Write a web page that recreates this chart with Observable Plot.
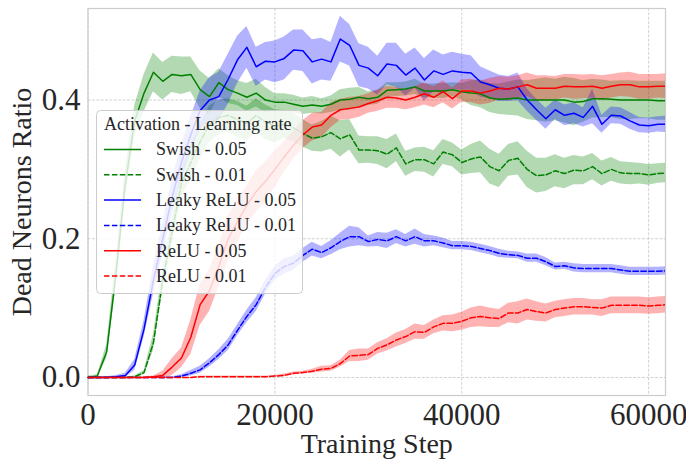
<!DOCTYPE html>
<html>
<head>
<meta charset="utf-8">
<script src="https://cdn.jsdelivr.net/npm/d3@7"></script>
<script src="https://cdn.jsdelivr.net/npm/@observablehq/plot@0.6"></script>
<style>
  html, body { margin: 0; padding: 0; background: #ffffff; }
  #chart { width: 686px; height: 459px; overflow: hidden; }
</style>
</head>
<body>
<div id="chart"></div>
<script>
// Training steps at which the dead-neuron ratio was logged
const steps = [0, 1000, 2000, 3000, 4000, 5000, 6000, 7000, 8000, 9000,
  10000, 11000, 12000, 13000, 14000, 15000, 16000, 17000, 18000, 19000,
  20000, 21000, 22000, 23000, 24000, 25000, 26000, 27000, 28000, 29000,
  30000, 31000, 32000, 33000, 34000, 35000, 36000, 37000, 38000, 39000,
  40000, 41000, 42000, 43000, 44000, 45000, 46000, 47000, 48000, 49000,
  50000, 51000, 52000, 53000, 54000, 55000, 56000, 57000, 58000, 59000,
  60000, 61000, 62000];

// Mean dead-neuron ratio per run
const swish005 = [0, 0.002, 0.037, 0.15, 0.28, 0.37, 0.41, 0.44, 0.427, 0.437,
  0.435, 0.437, 0.415, 0.405, 0.425, 0.415, 0.41, 0.404, 0.41, 0.4,
  0.397, 0.397, 0.394, 0.391, 0.393, 0.391, 0.394, 0.4, 0.401, 0.404,
  0.402, 0.404, 0.414, 0.415, 0.416, 0.419, 0.413, 0.413, 0.413, 0.415,
  0.412, 0.41, 0.409, 0.403, 0.401, 0.402, 0.403, 0.4, 0.4, 0.4,
  0.4, 0.4, 0.397, 0.398, 0.402, 0.402, 0.401, 0.4, 0.4, 0.4,
  0.4, 0.399, 0.399];
const swish001 = [0, 0, 0, 0, 0, 0.001, 0.007, 0.05, 0.14, 0.21,
  0.28, 0.31, 0.34, 0.365, 0.375, 0.378, 0.372, 0.366, 0.378, 0.368,
  0.362, 0.365, 0.36, 0.352, 0.345, 0.347, 0.353, 0.344, 0.35, 0.328,
  0.328, 0.327, 0.322, 0.331, 0.308, 0.314, 0.314, 0.308, 0.325, 0.321,
  0.31, 0.315, 0.318, 0.304, 0.298, 0.313, 0.316, 0.3, 0.291, 0.292,
  0.298, 0.294, 0.299, 0.298, 0.304, 0.294, 0.3, 0.295, 0.294, 0.294,
  0.292, 0.294, 0.295];
const leaky005 = [0, 0, 0, 0.001, 0.003, 0.018, 0.07, 0.14, 0.2, 0.26,
  0.31, 0.35, 0.385, 0.4, 0.405, 0.43, 0.458, 0.476, 0.448, 0.456,
  0.455, 0.46, 0.472, 0.471, 0.455, 0.459, 0.455, 0.488, 0.479, 0.45,
  0.446, 0.435, 0.452, 0.45, 0.436, 0.446, 0.429, 0.442, 0.437, 0.442,
  0.44, 0.439, 0.426, 0.422, 0.417, 0.416, 0.419, 0.4, 0.386, 0.373,
  0.386, 0.378, 0.381, 0.375, 0.391, 0.365, 0.378, 0.377, 0.37, 0.364,
  0.363, 0.365, 0.365];
const leaky001 = [0, 0, 0, 0, 0, 0, 0, 0, 0, 0,
  0.002, 0.006, 0.011, 0.021, 0.033, 0.047, 0.068, 0.088, 0.105, 0.13,
  0.15, 0.16, 0.165, 0.176, 0.185, 0.18, 0.187, 0.196, 0.203, 0.203,
  0.196, 0.199, 0.197, 0.203, 0.197, 0.203, 0.197, 0.197, 0.194, 0.19,
  0.19, 0.189, 0.186, 0.183, 0.179, 0.177, 0.176, 0.172, 0.172, 0.167,
  0.16, 0.161, 0.158, 0.157, 0.157, 0.157, 0.157, 0.155, 0.153, 0.153,
  0.153, 0.153, 0.154];
const relu005 = [0, 0, 0, 0, 0, 0, 0, 0.001, 0.003, 0.015,
  0.028, 0.058, 0.105, 0.125, 0.16, 0.2, 0.225, 0.248, 0.268, 0.283,
  0.3, 0.318, 0.335, 0.35, 0.361, 0.364, 0.378, 0.386, 0.388, 0.39,
  0.395, 0.399, 0.404, 0.403, 0.4, 0.404, 0.409, 0.404, 0.412, 0.402,
  0.413, 0.413, 0.41, 0.413, 0.417, 0.416, 0.419, 0.422, 0.417, 0.417,
  0.417, 0.42, 0.419, 0.419, 0.42, 0.417, 0.42, 0.422, 0.422, 0.419,
  0.419, 0.42, 0.42];
const relu001 = [0, 0, 0, 0, 0, 0, 0, 0, 0, 0,
  0, 0, 0.001, 0.001, 0.001, 0.001, 0.001, 0.001, 0.001, 0.001,
  0.002, 0.003, 0.006, 0.007, 0.009, 0.012, 0.013, 0.02, 0.031, 0.032,
  0.033, 0.042, 0.047, 0.054, 0.059, 0.066, 0.065, 0.073, 0.078, 0.078,
  0.081, 0.086, 0.088, 0.086, 0.085, 0.093, 0.093, 0.098, 0.095, 0.093,
  0.098, 0.1, 0.102, 0.102, 0.101, 0.1, 0.104, 0.104, 0.104, 0.104,
  0.103, 0.104, 0.105];

// Half-width of the confidence band around each mean
const swish005Band = [0.002, 0.002, 0.01, 0.02, 0.02, 0.022, 0.027, 0.028, 0.027, 0.026,
  0.027, 0.025, 0.027, 0.026, 0.02, 0.02, 0.018, 0.02, 0.02, 0.018,
  0.012, 0.012, 0.013, 0.012, 0.012, 0.011, 0.012, 0.015, 0.016, 0.014,
  0.01, 0.01, 0.011, 0.01, 0.01, 0.011, 0.01, 0.01, 0.011, 0.01,
  0.012, 0.018, 0.02, 0.021, 0.022, 0.024, 0.026, 0.028, 0.03, 0.032,
  0.03, 0.033, 0.034, 0.03, 0.028, 0.027, 0.026, 0.028, 0.028, 0.027,
  0.027, 0.028, 0.028];
const swish001Band = [0.001, 0.001, 0.001, 0.001, 0.001, 0.001, 0.003, 0.012, 0.015, 0.018,
  0.02, 0.024, 0.025, 0.026, 0.025, 0.024, 0.026, 0.025, 0.024, 0.025,
  0.024, 0.02, 0.021, 0.02, 0.019, 0.022, 0.024, 0.026, 0.022, 0.02,
  0.019, 0.02, 0.021, 0.02, 0.018, 0.017, 0.018, 0.019, 0.018, 0.017,
  0.018, 0.021, 0.023, 0.025, 0.024, 0.023, 0.024, 0.026, 0.025, 0.024,
  0.023, 0.022, 0.021, 0.02, 0.019, 0.018, 0.017, 0.016, 0.016, 0.015,
  0.015, 0.014, 0.014];
const leaky005Band = [0.001, 0.001, 0.001, 0.002, 0.003, 0.008, 0.012, 0.02, 0.022, 0.025,
  0.025, 0.026, 0.028, 0.032, 0.035, 0.036, 0.034, 0.03, 0.028, 0.027,
  0.03, 0.031, 0.029, 0.03, 0.032, 0.03, 0.028, 0.033, 0.03, 0.031,
  0.03, 0.028, 0.03, 0.032, 0.03, 0.029, 0.031, 0.03, 0.028, 0.027,
  0.026, 0.025, 0.022, 0.02, 0.019, 0.018, 0.02, 0.016, 0.015, 0.015,
  0.014, 0.015, 0.015, 0.014, 0.025, 0.013, 0.012, 0.012, 0.012, 0.011,
  0.011, 0.011, 0.012];
const leaky001Band = [0, 0, 0, 0, 0, 0, 0, 0.001, 0.001, 0.001,
  0.002, 0.004, 0.005, 0.006, 0.007, 0.008, 0.008, 0.009, 0.01, 0.01,
  0.01, 0.011, 0.01, 0.01, 0.01, 0.009, 0.01, 0.012, 0.015, 0.013,
  0.008, 0.01, 0.011, 0.01, 0.009, 0.011, 0.009, 0.007, 0.007, 0.006,
  0.006, 0.006, 0.006, 0.006, 0.006, 0.005, 0.005, 0.006, 0.006, 0.006,
  0.005, 0.005, 0.006, 0.006, 0.006, 0.006, 0.006, 0.006, 0.006, 0.006,
  0.006, 0.006, 0.006];
const relu005Band = [0, 0, 0, 0, 0, 0, 0.001, 0.001, 0.006, 0.012,
  0.014, 0.025, 0.03, 0.03, 0.03, 0.032, 0.03, 0.028, 0.03, 0.028,
  0.026, 0.022, 0.02, 0.02, 0.02, 0.018, 0.018, 0.015, 0.016, 0.015,
  0.014, 0.015, 0.016, 0.015, 0.014, 0.015, 0.016, 0.015, 0.016, 0.015,
  0.016, 0.017, 0.017, 0.018, 0.017, 0.017, 0.016, 0.017, 0.018, 0.018,
  0.017, 0.017, 0.018, 0.017, 0.017, 0.018, 0.017, 0.017, 0.018, 0.018,
  0.018, 0.017, 0.018];
const relu001Band = [0, 0, 0, 0, 0, 0, 0, 0, 0, 0,
  0, 0, 0.001, 0.001, 0.001, 0.001, 0.001, 0.001, 0.001, 0.001,
  0.001, 0.002, 0.002, 0.002, 0.003, 0.004, 0.004, 0.005, 0.008, 0.009,
  0.008, 0.008, 0.009, 0.01, 0.01, 0.011, 0.01, 0.01, 0.011, 0.012,
  0.013, 0.014, 0.015, 0.014, 0.013, 0.014, 0.016, 0.015, 0.014, 0.013,
  0.012, 0.012, 0.012, 0.012, 0.011, 0.012, 0.012, 0.012, 0.012, 0.012,
  0.012, 0.012, 0.012];

const xTicks = [0, 20000, 40000, 60000];
const yTicks = [0, 0.2, 0.4];

const runs = [
  {label: "Swish - 0.05", color: "#008000", dash: null, mean: swish005, band: swish005Band},
  {label: "Swish - 0.01", color: "#008000", dash: "5.5,2.4", mean: swish001, band: swish001Band},
  {label: "Leaky ReLU - 0.05", color: "#0000ff", dash: null, mean: leaky005, band: leaky005Band},
  {label: "Leaky ReLU - 0.01", color: "#0000ff", dash: "5.5,2.4", mean: leaky001, band: leaky001Band},
  {label: "ReLU - 0.05", color: "#ff0000", dash: null, mean: relu005, band: relu005Band},
  {label: "ReLU - 0.01", color: "#ff0000", dash: "5.5,2.4", mean: relu001, band: relu001Band}
];

const rowsOf = run => steps.map((step, i) => ({
  step,
  value: run.mean[i],
  lo: run.mean[i] - run.band[i],
  hi: run.mean[i] + run.band[i]
}));

const FONT = "'Liberation Serif', 'DejaVu Serif', serif";
const INK = "#262626";

const svg = Plot.plot({
  width: 686,
  height: 459,
  marginLeft: 87.5,
  marginRight: 21,
  marginTop: 8,
  marginBottom: 64,
  x: {domain: [0, 61800]},
  y: {domain: [-0.026, 0.532]},
  style: {fontFamily: FONT, color: INK, background: "#ffffff", overflow: "hidden"},
  marks: [
    Plot.gridX(xTicks, {stroke: "#c4c4c4", strokeOpacity: 1, strokeWidth: 0.8, strokeDasharray: "2.8,1.6"}),
    Plot.gridY(yTicks, {stroke: "#c4c4c4", strokeOpacity: 1, strokeWidth: 0.8, strokeDasharray: "2.8,1.6"}),
    Plot.frame({stroke: "#cccccc", strokeWidth: 1.2}),
    // confidence bands sit under all of the lines
    ...runs.map(run => Plot.areaY(rowsOf(run), {
      x: "step", y1: "lo", y2: "hi", fill: run.color, fillOpacity: 0.3, clip: true
    })),
    ...runs.map(run => Plot.lineY(rowsOf(run), {
      x: "step", y: "value", stroke: run.color, strokeWidth: 1.5,
      strokeDasharray: run.dash, clip: true
    })),
    Plot.axisX(xTicks, {tickSize: 0, tickPadding: 7, fontSize: 31, tickFormat: d => String(d), label: null}),
    Plot.axisY(yTicks, {tickSize: 0, tickPadding: 7.5, fontSize: 31, tickFormat: d3.format(".1f"), label: null}),
    Plot.text(["Training Step"], {frameAnchor: "bottom", textAnchor: "middle", dy: 57, fontSize: 28, fill: INK}),
    Plot.text(["Dead Neurons Ratio"], {frameAnchor: "left", textAnchor: "middle", dx: -65.5, rotate: -90, fontSize: 28, fill: INK})
  ]
});

// Legend box in the upper-left part of the plot area
const legend = d3.select(svg).append("g")
  .attr("font-family", FONT)
  .attr("text-anchor", "start")
  .attr("fill", INK);
legend.append("rect")
  .attr("x", 96.5).attr("y", 110.5)
  .attr("width", 206).attr("height", 183)
  .attr("rx", 4)
  .attr("fill", "#ffffff").attr("fill-opacity", 0.8)
  .attr("stroke", "#cccccc").attr("stroke-width", 1);
legend.append("text")
  .attr("x", 104).attr("y", 129.5)
  .attr("font-size", 18)
  .attr("text-anchor", "start")
  .text("Activation - Learning rate");
runs.forEach((run, i) => {
  const y = 149.5 + i * 25.3;
  legend.append("line")
    .attr("x1", 104).attr("x2", 141)
    .attr("y1", y).attr("y2", y)
    .attr("stroke", run.color).attr("stroke-width", 1.5)
    .attr("stroke-dasharray", run.dash);
  legend.append("text")
    .attr("x", 156).attr("y", y + 5.8)
    .attr("font-size", 18)
    .attr("text-anchor", "start")
    .text(run.label);
});

document.getElementById("chart").appendChild(svg);
</script>
</body>
</html>
